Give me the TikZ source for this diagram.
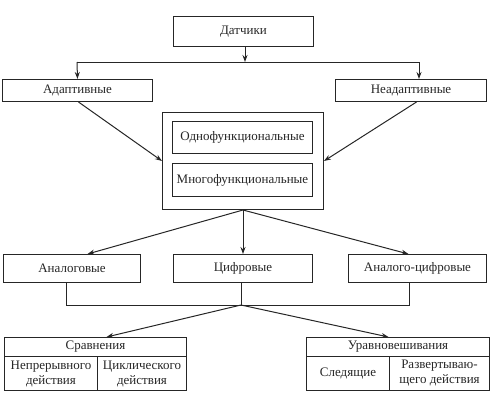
\documentclass[tikz,border=0pt]{standalone}
\usepackage{fontspec}
\setmainfont{Liberation Serif}
\usetikzlibrary{arrows.meta}

\tikzset{
  box/.style={draw, line width=1pt, inner sep=0pt, anchor=north west,
    font=\fontsize{13}{15}\selectfont},
  wire/.style={line width=1pt},
  link/.style={wire, -{Stealth[length=7pt,width=5pt]}},
}

\begin{document}
\begin{tikzpicture}[x=1pt,y=-1pt,color=black!85]
		%%%%% START %%%%%
		\useasboundingbox (0,0) rectangle (503,400);
		
		\node[box, minimum width=140pt, minimum height=30pt] (sensors) at (173,16) {Датчики};
		
		\node[box, minimum width=150pt, minimum height=22pt] (adapt) at (2,79) {Адаптивные};
		\node[box, minimum width=151pt, minimum height=22pt] (nonadapt) at (335,79) {Неадаптивные};
		
		\node[box, minimum width=161pt, minimum height=97pt] (func) at (162,112) {};
		\node[box, minimum width=140pt, minimum height=32pt] (single) at (172,121) {Однофункциональные};
		\node[box, minimum width=140pt, minimum height=33pt] (multi) at (172,163) {Многофункциональные};
		
		\node[box, minimum width=137pt, minimum height=28pt] (analog) at (3,254) {Аналоговые};
		\node[box, minimum width=139pt, minimum height=28pt] (digital) at (173,254) {Цифровые};
		\node[box, minimum width=138pt, minimum height=28pt] (mixed) at (348,254) {Аналого-цифровые};
		
		\node[box, minimum width=182pt, minimum height=19pt] (compare) at (4,337) {Сравнения};
		\node[box, minimum width=93pt, minimum height=34pt, align=center] (cont) at (4,356) {Непрерывного\\действия};
		\node[box, minimum width=89pt, minimum height=34pt, align=center] (cycl) at (97,356) {Циклического\\действия};
		
		\node[box, minimum width=183pt, minimum height=19pt] (balance) at (306,337) {Уравновешивания};
		\node[box, minimum width=83pt, minimum height=34pt] (track) at (306,356) {Следящие};
		\node[box, minimum width=100pt, minimum height=34pt, align=center] (sweep) at (389,356) {Развертываю-\\щего действия};
		
		% upper bus
		\coordinate (fork) at (245,62);
		\coordinate (busL) at (77,62);
		\coordinate (busR) at (419,62);
		\draw[link] (sensors.south -| fork) -- (fork);
		\draw[wire] (busL) -- (busR);
		\draw[link] (busL) -- (adapt.north);
		\draw[link] (busR) -- (busR |- nonadapt.north);
		
		\draw[link] ([xshift=1pt]adapt.south) -- (func.west);
		\draw[link] ([xshift=5.5pt]nonadapt.south) -- (func.east);
		
		\draw[link] (func.south) -- ([xshift=15.5pt]analog.north);
		\draw[link] (func.south) -- (digital.north);
		\draw[link] (func.south) -- ([xshift=-9pt]mixed.north);
		
		% lower bus
		\coordinate (join) at (241,305);
		\draw[wire] ([xshift=-5.5pt]analog.south) |- (join);
		\draw[wire] ([xshift=-8pt]mixed.south) |- (join);
		\draw[wire] (digital.south -| join) -- (join);
		
		\draw[link] (join) -- ([xshift=11pt]compare.north);
		\draw[link] (join) -- ([xshift=-9.5pt]balance.north);
		
		%%%%% END %%%%%
\end{tikzpicture}
\end{document}
